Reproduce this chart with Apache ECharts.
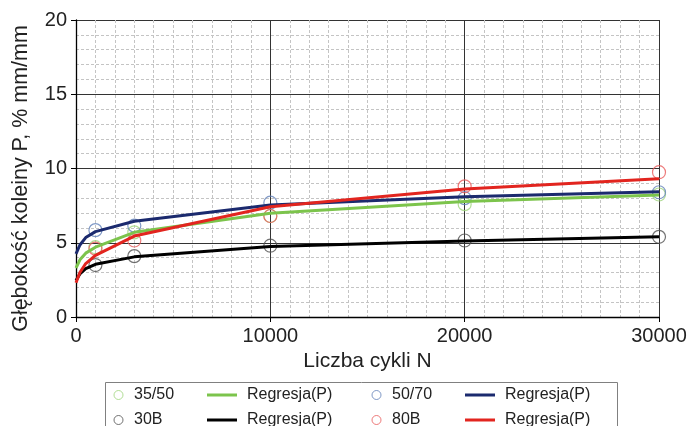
<!DOCTYPE html>
<html>
<head>
<meta charset="utf-8">
<script src="https://cdn.jsdelivr.net/npm/echarts@6/dist/echarts.min.js"></script>
<style>
html,body{margin:0;padding:0;background:#fff;}
#c{width:688px;height:426px;}
</style>
</head>
<body>
<div id="c"></div>
<script>
// Measured points (N, P)
const cycles = [1000, 3000, 10000, 20000, 30000];
const p3550 = [4.7, 5.7, 6.8, 7.6, 8.25];
const p5070 = [5.85, 6.15, 7.7, 8.0, 8.4];
const p30B  = [3.5, 4.1, 4.8, 5.15, 5.4];
const p80B  = [4.6, 5.15, 6.8, 8.8, 9.75];

// Regression curves
const regN     = [0, 200, 500, 1000, 3000, 10000, 20000, 30000];
const reg3550  = [3.3, 3.85, 4.3, 4.7, 5.7, 6.98, 7.77, 8.22];
const reg5070  = [4.25, 4.85, 5.35, 5.75, 6.45, 7.54, 8.1, 8.44];
const reg30B   = [2.45, 2.9, 3.25, 3.55, 4.05, 4.74, 5.12, 5.41];
const reg80B   = [2.3, 3.0, 3.6, 4.15, 5.45, 7.43, 8.62, 9.31];

const xTitle = 'Liczba cykli N';
const yTitle = 'Głębokość koleiny P, % mm/mm';
const regLabel = 'Regresja(P)';

const FONT = 'Liberation Sans, Arial, sans-serif';
const pair = (xs, ys) => xs.map((x, i) => [x, ys[i]]);

const colors = {
  g:  {m: '#9fd57c', l: '#7cc44c'},
  b:  {m: '#6080b8', l: '#1b2a6e'},
  k:  {m: '#505050', l: '#000000'},
  r:  {m: '#e85a5a', l: '#e2251f'}
};

function scatter(name, ys, c) {
  return {
    name, type: 'scatter', data: pair(cycles, ys), symbol: 'circle', symbolSize: 13,
    itemStyle: {color: 'rgba(0,0,0,0)', borderColor: c, borderWidth: 1.2}, z: 2
  };
}
function line(name, ys, c) {
  return {
    name, type: 'line', data: pair(regN, ys), showSymbol: false, symbol: 'none',
    lineStyle: {color: c, width: 3}, itemStyle: {color: c}, z: 3
  };
}

const baseText = {fontFamily: FONT, fontSize: 16, color: '#222', lineHeight: 18};
function circleLegend(name, c, left, top) {
  return {
    orient: 'horizontal', left, top, padding: 0, selectedMode: false,
    itemWidth: 21, itemHeight: 9, textStyle: baseText,
    data: [{name, icon: 'circle', itemStyle: {color: 'rgba(0,0,0,0)', borderColor: c, borderWidth: 1}}]
  };
}
function lineLegend(name, left, top) {
  return {
    orient: 'horizontal', left, top, padding: 0, selectedMode: false,
    itemWidth: 30, itemHeight: 3,
    textStyle: Object.assign({}, baseText, {padding: [0, 0, 0, 5]}),
    formatter: () => regLabel,
    data: [{name, icon: 'rect'}]
  };
}
const row1 = 386, row2 = 411;

const chart = echarts.init(document.getElementById('c'), null, {renderer: 'canvas'});
chart.setOption({
  animation: false,
  backgroundColor: '#fff',
  grid: {left: 76, right: 29, top: 20, bottom: 109, containLabel: false, outerBoundsMode: 'none'},
  xAxis: {
    type: 'value', min: 0, max: 30000, interval: 10000,
    name: xTitle, nameLocation: 'middle', nameGap: 29,
    nameTextStyle: {fontFamily: FONT, fontSize: 21, color: '#222'},
    axisLine: {show: true, lineStyle: {color: '#000', width: 1.3}},
    axisTick: {show: true, inside: false, length: 5, lineStyle: {color: '#000'}},
    axisLabel: {fontFamily: FONT, fontSize: 20, color: '#222', margin: 9, formatter: v => String(v)},
    splitLine: {show: true, lineStyle: {color: '#333', width: 1}},
    minorTick: {show: false, splitNumber: 10},
    minorSplitLine: {show: true, lineStyle: {color: '#c4c4c4', width: 1, type: [3, 2]}}
  },
  yAxis: {
    type: 'value', min: 0, max: 20, interval: 5,
    name: yTitle, nameLocation: 'middle', nameGap: 44,
    nameTextStyle: {fontFamily: FONT, fontSize: 21.5, color: '#222', padding: [0, 20, 0, 0]},
    axisLine: {show: true, lineStyle: {color: '#000', width: 1.3}},
    axisTick: {show: true, inside: false, length: 5, lineStyle: {color: '#000'}},
    axisLabel: {fontFamily: FONT, fontSize: 20, color: '#222', margin: 9},
    splitLine: {show: true, lineStyle: {color: '#333', width: 1}},
    minorTick: {show: false, splitNumber: 5},
    minorSplitLine: {show: true, lineStyle: {color: '#c4c4c4', width: 1, type: [3, 2]}}
  },
  legend: [
    circleLegend('35/50', colors.g.m, 113.5, row1),
    lineLegend('reg1', 207, row1),
    circleLegend('50/70', colors.b.m, 371.5, row1),
    lineLegend('reg2', 465, row1),
    circleLegend('30B', colors.k.m, 113.5, row2),
    lineLegend('reg3', 207, row2),
    circleLegend('80B', colors.r.m, 371.5, row2),
    lineLegend('reg4', 465, row2)
  ],
  graphic: [{
    type: 'rect', left: 103, top: 380, silent: true,
    shape: {width: 512, height: 60},
    style: {fill: 'none', stroke: '#808080', lineWidth: 1}
  }],
  series: [
    scatter('35/50', p3550, colors.g.m),
    scatter('50/70', p5070, colors.b.m),
    scatter('30B', p30B, colors.k.m),
    scatter('80B', p80B, colors.r.m),
    line('reg1', reg3550, colors.g.l),
    line('reg2', reg5070, colors.b.l),
    line('reg3', reg30B, colors.k.l),
    line('reg4', reg80B, colors.r.l)
  ]
});
</script>
</body>
</html>
